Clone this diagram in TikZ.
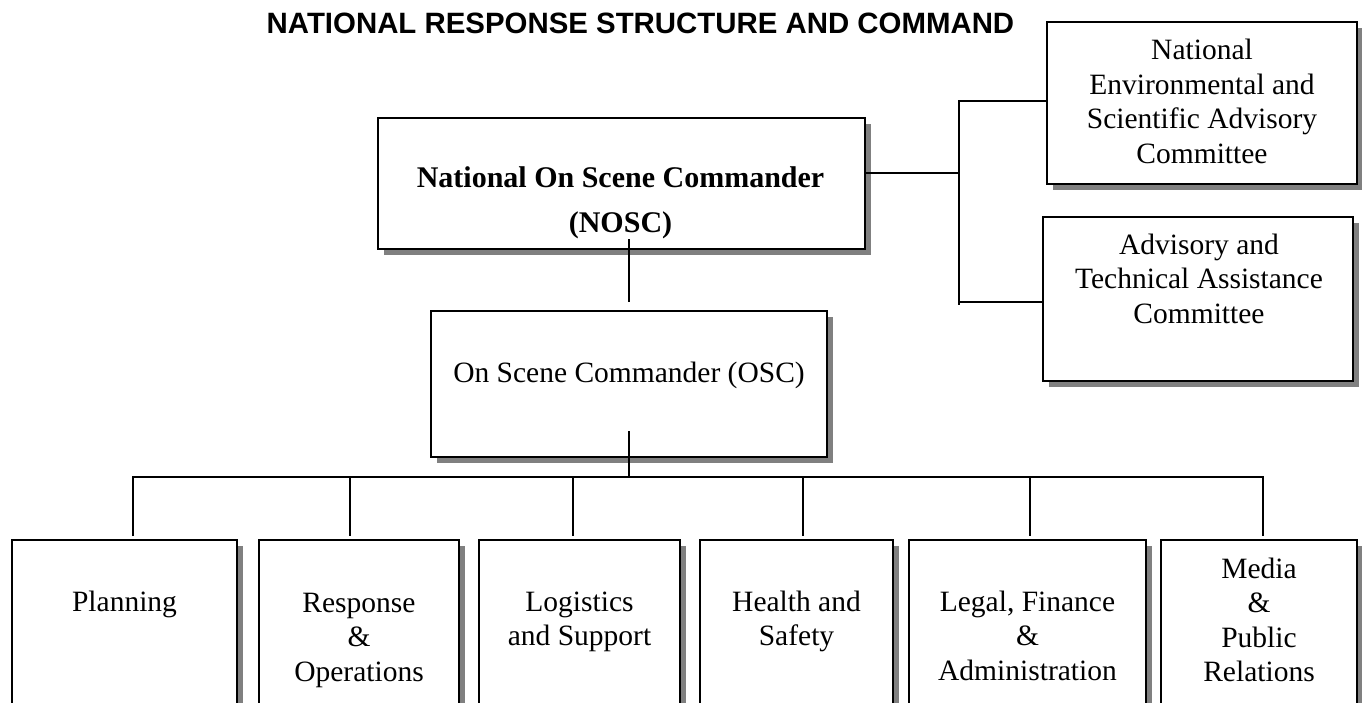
\documentclass[tikz,border=0pt]{standalone}
\usepackage{fontspec}
\setmainfont{Liberation Serif}
\newfontfamily\headfont{Liberation Sans}
\usetikzlibrary{shadows,calc}
\definecolor{shadowgray}{RGB}{128,128,128}
\begin{document}
\begin{tikzpicture}[x=1pt,y=-1pt,
  box/.style={draw=black, line width=2pt, fill=white, inner sep=0pt,
    drop shadow={shadow xshift=5.5pt, shadow yshift=-5.5pt, fill=shadowgray, opacity=1}},
  conn/.style={line width=2pt, draw=black},
  lbl/.style={font=\fontsize{29.5}{34.5}\selectfont, align=center, inner sep=0pt, anchor=base},
]
\useasboundingbox (0,0) rectangle (1362,702);
\clip (0,0) rectangle (1362,702);
\node[anchor=base, inner sep=0pt, font=\headfont\fontsize{29.4}{36}\selectfont\bfseries] (title) at (640.5,33) {NATIONAL RESPONSE STRUCTURE AND COMMAND};

% boxes
\node[box, minimum width=487pt, minimum height=131pt] (nosc) at (621.5,183.5) {};
\node[box, minimum width=396pt, minimum height=146pt] (osc) at (629,384) {};
\node[box, minimum width=310pt, minimum height=162pt] (nesac) at (1202,103) {};
\node[box, minimum width=310pt, minimum height=164pt] (atac) at (1198,299) {};
\node[box, minimum width=225pt, minimum height=260pt] (plan) at (124.5,670) {};
\node[box, minimum width=200pt, minimum height=260pt] (resp) at (359,670) {};
\node[box, minimum width=201pt, minimum height=260pt] (logi) at (579.5,670) {};
\node[box, minimum width=193pt, minimum height=260pt] (heal) at (796.5,670) {};
\node[box, minimum width=237pt, minimum height=260pt] (legal) at (1027.5,670) {};
\node[box, minimum width=196pt, minimum height=260pt] (media) at (1259,670) {};

% texts (anchor = baseline of the last line)
\node[lbl, font=\fontsize{30}{45}\selectfont\bfseries] (tnosc) at (620.5,232) {National On Scene Commander\\(NOSC)};
\node[lbl] (tosc) at (629,382) {On Scene Commander (OSC)};
\node[lbl] (tnesac) at (1202,163) {National\\Environmental and\\Scientific Advisory\\Committee};
\node[lbl] (tatac) at (1199,323) {Advisory and\\Technical Assistance\\Committee};
\node[lbl] (tplan) at (124.5,611) {Planning};
\node[lbl] (tresp) at (359,681) {Response\\\&\\Operations};
\node[lbl] (tlogi) at (579.5,645.5) {Logistics\\and Support};
\node[lbl] (theal) at (796.5,645.5) {Health and\\Safety};
\node[lbl] (tlegal) at (1027.5,680) {Legal, Finance\\\&\\Administration};
\node[lbl] (tmedia) at (1259,681.5) {Media\\\&\\Public\\Relations};

% advisory bracket
\coordinate (jt) at (959,100.5);
\coordinate (jm) at (959,173);
\coordinate (ja) at (959,302);
\coordinate (jb) at (959,305);
\draw[conn] (nosc.east |- jm) -- (jm);
\draw[conn] (nesac.west |- jt) -- (jt) -- (jb);
\draw[conn] (ja) -- (atac.west |- ja);

% NOSC to OSC
\draw[conn] ($(osc.north |- nosc.south)+(0,-11)$) -- ($(osc.north)+(0,-8)$);

% OSC to bus
\coordinate (c1) at (132.6,477);
\coordinate (c2) at (350.4,477);
\coordinate (c3) at (572.8,477);
\coordinate (c4) at (802.6,477);
\coordinate (c5) at (1030,477);
\coordinate (c6) at (1262.6,477);
\draw[conn] ($(osc.south)+(0,-27)$) -- (osc.south |- c1);
\draw[conn] ($(c1 |- plan.north)+(0,-3)$) -- (c1) -- (c6) -- ($(c6 |- media.north)+(0,-3)$);
\draw[conn] (c2) -- ($(c2 |- resp.north)+(0,-3)$);
\draw[conn] (c3) -- ($(c3 |- logi.north)+(0,-3)$);
\draw[conn] (c4) -- ($(c4 |- heal.north)+(0,-3)$);
\draw[conn] (c5) -- ($(c5 |- legal.north)+(0,-3)$);
\end{tikzpicture}
\end{document}
